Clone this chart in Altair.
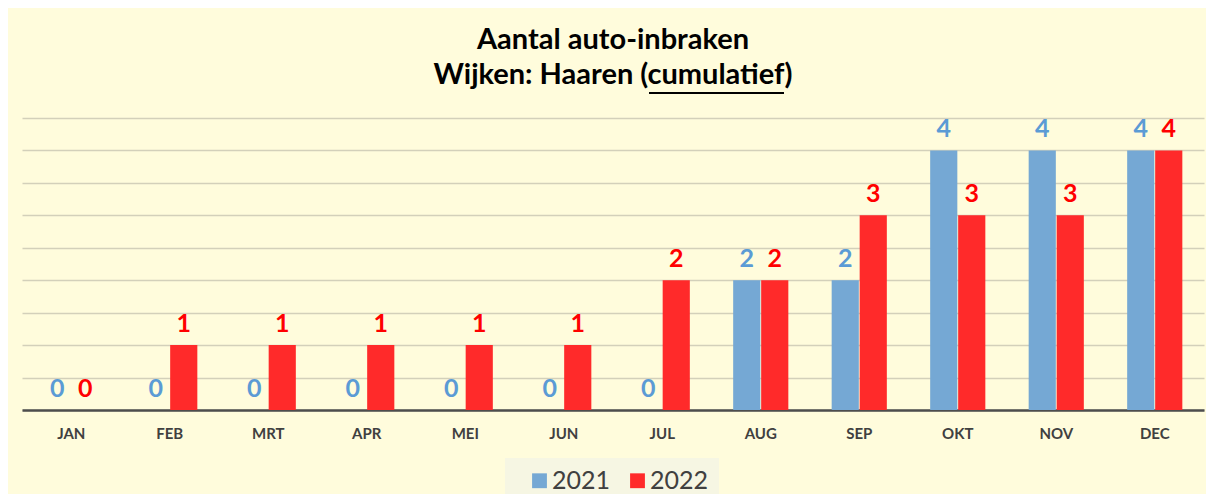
import altair as alt
import pandas as pd

months = ["JAN", "FEB", "MRT", "APR", "MEI", "JUN", "JUL", "AUG", "SEP", "OKT", "NOV", "DEC"]
v2021 = [0, 0, 0, 0, 0, 0, 0, 2, 2, 4, 4, 4]
v2022 = [0, 1, 1, 1, 1, 1, 2, 2, 3, 3, 3, 4]
years = ["2021", "2022"]
bar_colors = ["#75A8D4", "#FF2A2A"]
label_colors = ["#5B9BD5", "#FF0000"]
grid_ticks = [0, 0.5, 1, 1.5, 2, 2.5, 3, 3.5, 4, 4.5]

rows = []
for i, m in enumerate(months):
    rows.append({"maand": m, "jaar": "2021", "aantal": v2021[i]})
    rows.append({"maand": m, "jaar": "2022", "aantal": v2022[i]})
df = pd.DataFrame(rows)

FONT = "Lato"

x = alt.X("maand:N", sort=months,
          scale=alt.Scale(paddingInner=0.44, paddingOuter=0.22),
          axis=alt.Axis(title=None, labelAngle=0, labelFontSize=15, labelFontWeight="bold",
                        labelColor="#404040", labelFont=FONT, labelPadding=16,
                        ticks=False, domainColor="#4D4D4D", domainWidth=2.5, grid=False))
y = alt.Y("aantal:Q", scale=alt.Scale(domain=[0, 4.5], nice=False),
          axis=alt.Axis(title=None, labels=False, ticks=False, domain=False,
                        values=grid_ticks, gridColor="#D3D0BA", gridWidth=1.5))
xo = alt.XOffset("jaar:N", sort=years, scale=alt.Scale(paddingInner=0.03))

bars = alt.Chart(df).mark_bar(opacity=1).encode(
    x=x, y=y, xOffset=xo,
    color=alt.Color("jaar:N", sort=years, scale=alt.Scale(domain=years, range=bar_colors),
                    legend=alt.Legend(title=None, orient="none", legendX=483, legendY=340,
                                      direction="horizontal", symbolType="square",
                                      symbolSize=220, symbolStrokeWidth=0,
                                      labelFontSize=25, labelColor="#404040", labelFont=FONT,
                                      columnPadding=2, padding=10, fillColor="#F6F6E3",
                                      symbolOffset=12, labelOffset=0)),
)

labels = alt.Chart(df).mark_text(fontSize=25, fontWeight="bold", font=FONT,
                                 baseline="bottom", dy=-8).encode(
    x=x, y=y, xOffset=xo,
    text=alt.Text("aantal:Q"),
    color=alt.Color("jaar:N", sort=years, scale=alt.Scale(domain=years, range=label_colors),
                    legend=None),
)

underline = alt.Chart(pd.DataFrame({"a": [0]})).mark_rule(color="#000000", strokeWidth=2).encode(
    x=alt.value(627), x2=alt.value(762), y=alt.value(-25)
)

chart = alt.layer(bars, labels, underline).resolve_scale(color="independent").properties(
    width=1182, height=292,
    padding={"left": 14, "top": 110, "right": 2, "bottom": 84},
    autosize=alt.AutoSizeParams(type="none"),
    background="#FFFCDC",
    title=alt.Title(["Aantal auto-inbraken", "Wijken: Haaren (cumulatief)"],
                    fontSize=29, font=FONT, fontWeight="bold", color="#000000",
                    anchor="middle", lineHeight=35, offset=2),
).configure_view(stroke=None)

chart.save("out.html", embed_options={"renderer": "svg", "actions": False})
